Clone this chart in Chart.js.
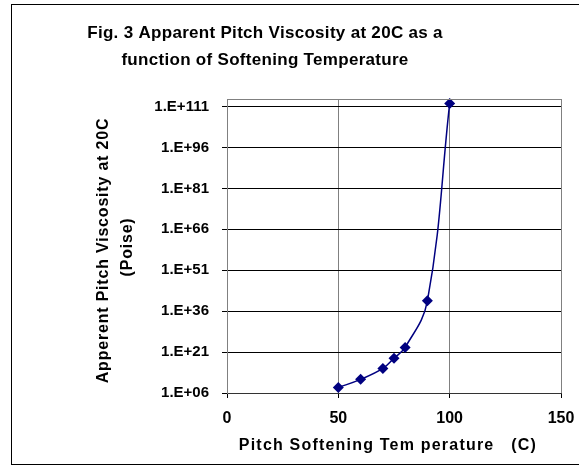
<!DOCTYPE html>
<html>
<head>
<meta charset="utf-8">
<script src="https://cdn.jsdelivr.net/npm/chart.js@4/dist/chart.umd.min.js"></script>
<style>
html,body{margin:0;padding:0;background:#fff;}
canvas{display:block;}
</style>
</head>
<body>
<canvas id="c" width="579" height="466"></canvas>
<script>
// Data
const temperatures = [50, 60, 70, 75, 80, 90, 100];
const viscosities = [1e8, 1e11, 1e15, 6e18, 5e22, 6e39, 1.2e112];
const yTickExponents = [6, 21, 36, 51, 66, 81, 96, 111];
const xTickValues = [0, 50, 100, 150];

const titleLines = ["Fig. 3 Apparent Pitch Viscosity at 20C as a", "function of Softening Temperature"];
const yTitleLines = ["Apperent Pitch Viscosity at 20C", "(Poise)"];
const xTitle = "Pitch Softening Tem perature   (C)";

const FONT = '"Liberation Sans", Arial, sans-serif';

const decorPlugin = {
  id: 'decor',
  beforeDraw(chart) {
    const ctx = chart.ctx;
    ctx.save();
    ctx.fillStyle = '#fff';
    ctx.fillRect(0, 0, chart.width, chart.height);
    ctx.restore();
  },
  afterDraw(chart) {
    const ctx = chart.ctx;
    const a = chart.chartArea;
    ctx.save();
    // plot area top border
    ctx.strokeStyle = '#808080';
    ctx.lineWidth = 1;
    ctx.beginPath();
    ctx.moveTo(Math.round(a.left) + 0.5, Math.round(a.top) + 0.5);
    ctx.lineTo(Math.round(a.right) + 0.5, Math.round(a.top) + 0.5);
    ctx.stroke();
    // outer chart border
    ctx.strokeStyle = '#000';
    ctx.strokeRect(11.5, 4.5, 600, 460);
    // titles
    ctx.fillStyle = '#000';
    ctx.textAlign = 'center';
    ctx.textBaseline = 'alphabetic';
    ctx.font = 'bold 17px ' + FONT;
    if ('letterSpacing' in ctx) ctx.letterSpacing = '0.3px';
    ctx.fillText(titleLines[0], 265, 38);
    ctx.fillText(titleLines[1], 265, 65);
    ctx.font = 'bold 16px ' + FONT;
    if ('letterSpacing' in ctx) ctx.letterSpacing = '1.2px';
    ctx.fillText(xTitle, 388, 450);
    if ('letterSpacing' in ctx) ctx.letterSpacing = '0.8px';
    ctx.save();
    ctx.translate(108, 250.5);
    ctx.rotate(-Math.PI / 2);
    ctx.fillText(yTitleLines[0], 0, 0);
    ctx.restore();
    ctx.save();
    ctx.translate(132, 247);
    ctx.rotate(-Math.PI / 2);
    ctx.fillText(yTitleLines[1], 0, 0);
    ctx.restore();
    ctx.restore();
  }
};

new Chart(document.getElementById('c'), {
  type: 'scatter',
  data: {
    datasets: [{
      data: temperatures.map((t, i) => ({x: t, y: viscosities[i]})),
      showLine: true,
      borderColor: '#000080',
      backgroundColor: '#000080',
      borderWidth: 1.5,
      tension: 0.4,
      pointStyle: 'rectRot',
      pointRadius: 5.5,
      pointHoverRadius: 5.5,
      pointBorderWidth: 0,
      clip: false
    }]
  },
  options: {
    responsive: false,
    animation: false,
    devicePixelRatio: 1,
    layout: {padding: {top: 99, right: 18, bottom: 0, left: 0}},
    plugins: {legend: {display: false}, title: {display: false}, tooltip: {enabled: false}},
    scales: {
      x: {
        type: 'linear',
        min: 0,
        max: 150,
        afterBuildTicks(scale) { scale.ticks = xTickValues.map(v => ({value: v})); },
        afterFit(scale) { scale.height = 73; scale.paddingLeft = 0; scale.paddingRight = 0; },
        grid: {color: '#808080', lineWidth: 1, tickLength: 5, tickColor: '#000'},
        border: {color: '#333', width: 1},
        ticks: {
          autoSkip: false,
          maxRotation: 0,
          padding: 11,
          color: '#000',
          font: {family: FONT, size: 16, weight: 'bold'}
        }
      },
      y: {
        type: 'logarithmic',
        min: 1e6,
        max: Math.pow(10, 113.75),
        afterBuildTicks(scale) { scale.ticks = yTickExponents.map(e => ({value: Math.pow(10, e)})); },
        afterFit(scale) { scale.width = 227; scale.paddingTop = 0; scale.paddingBottom = 0; },
        grid: {color: '#000', lineWidth: 1, tickLength: 5, tickColor: '#000'},
        border: {color: '#808080', width: 1},
        ticks: {
          autoSkip: false,
          padding: 13,
          color: '#000',
          font: {family: FONT, size: 15, weight: 'bold'},
          callback(value) {
            const e = Math.round(Math.log10(value));
            return '1.E+' + String(e).padStart(2, '0');
          }
        }
      }
    }
  },
  plugins: [decorPlugin]
});
</script>
</body>
</html>
